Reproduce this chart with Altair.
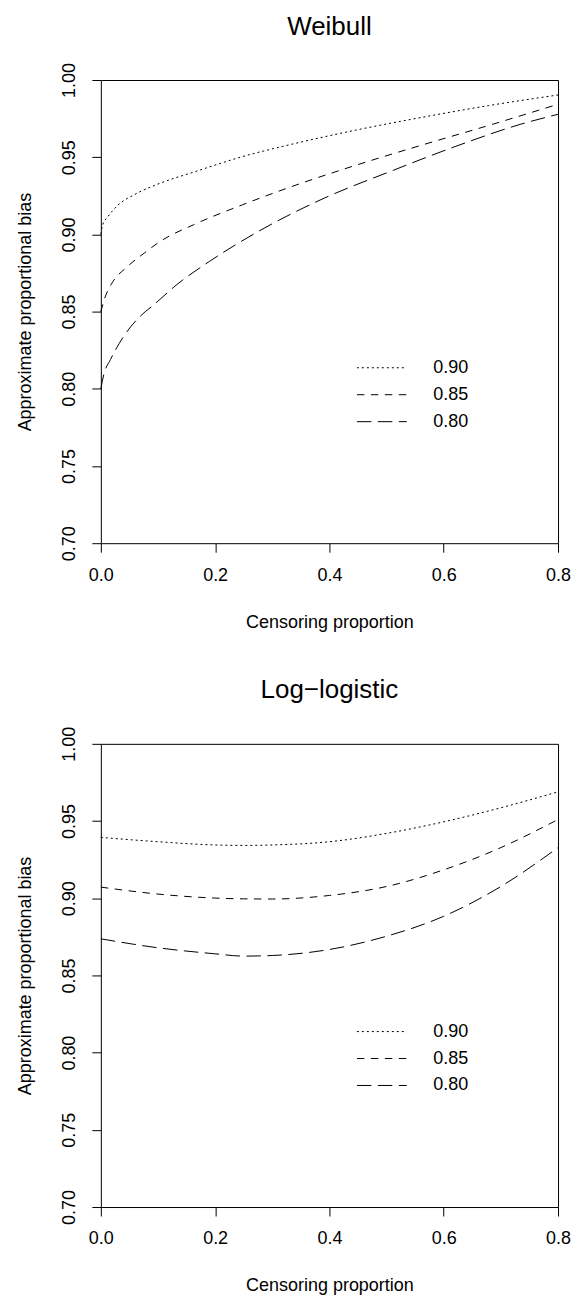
import altair as alt
import pandas as pd

FONT = "Liberation Sans"

series_names = ["0.90", "0.85", "0.80"]

# Weibull panel (censoring proportion, approximate proportional bias)
weibull_090_x = [0, 0.003, 0.0126, 0.030, 0.058, 0.104, 0.162, 0.248, 0.334, 0.448, 0.563, 0.678, 0.8]
weibull_090_y = [0.900, 0.906, 0.9116, 0.919, 0.9256, 0.9332, 0.9403, 0.9504, 0.9584, 0.9677, 0.9759, 0.9834, 0.9903]
weibull_085_x = [0, 0.0069, 0.018, 0.047, 0.076, 0.104, 0.162, 0.248, 0.334, 0.448, 0.563, 0.678, 0.8]
weibull_085_y = [0.850, 0.8588, 0.8675, 0.8793, 0.8879, 0.8955, 0.9062, 0.9192, 0.931, 0.945, 0.958, 0.9705, 0.9843]
weibull_080_x = [0, 0.005, 0.017, 0.04, 0.069, 0.093, 0.133, 0.19, 0.276, 0.391, 0.506, 0.62, 0.735, 0.8]
weibull_080_y = [0.800, 0.809, 0.819, 0.834, 0.847, 0.8545, 0.8675, 0.8825, 0.902, 0.9235, 0.9407, 0.9569, 0.9714, 0.9778]

# Log-logistic panel
loglog_x = [0, 0.1, 0.2, 0.25, 0.3, 0.4, 0.5, 0.6, 0.7, 0.8]
loglog_090_y = [0.9394, 0.9366, 0.9345, 0.9342, 0.9345, 0.9366, 0.9420, 0.9495, 0.9586, 0.9689]
loglog_085_y = [0.9072, 0.9027, 0.9001, 0.8996, 0.8995, 0.9018, 0.9076, 0.9184, 0.9328, 0.9510]
loglog_080_y = [0.8737, 0.8679, 0.8640, 0.8625, 0.8629, 0.8668, 0.8754, 0.8883, 0.9076, 0.9328]

x_ticks = [0.0, 0.2, 0.4, 0.6, 0.8]
y_ticks = [0.70, 0.75, 0.80, 0.85, 0.90, 0.95, 1.00]

dash_patterns = [[2, 3], [7.5, 6.5], [14.5, 6.5]]


def make_df(pairs):
    rows = []
    for name, (xs, ys) in zip(series_names, pairs):
        for x, y in zip(xs, ys):
            rows.append({"censoring": x, "bias": y, "series": name})
    return pd.DataFrame(rows)


def panel(df, title):
    return (
        alt.Chart(
            df,
            title=alt.TitleParams(
                title,
                fontSize=26,
                font=FONT,
                fontWeight="normal",
                anchor="middle",
                frame="group",
                baseline="alphabetic",
                offset=2,
                color="black",
            ),
        )
        .mark_line(color="black", strokeWidth=1, interpolate="monotone")
        .encode(
            x=alt.X(
                "censoring:Q",
                scale=alt.Scale(domain=[0, 0.8], nice=False, zero=False),
                axis=alt.Axis(
                    title="Censoring proportion",
                    values=x_ticks,
                    format=".1f",
                    labelFlush=False,
                    labelPadding=14,
                    titleY=84,
                    titleBaseline="alphabetic",
                ),
            ),
            y=alt.Y(
                "bias:Q",
                scale=alt.Scale(domain=[0.7, 1.0], nice=False, zero=False),
                axis=alt.Axis(
                    title="Approximate proportional bias",
                    values=y_ticks,
                    format=".2f",
                    labelFlush=False,
                    labelAngle=270,
                    labelAlign="center",
                    labelBaseline="alphabetic",
                    labelPadding=17,
                    titleX=-70,
                    titleBaseline="alphabetic",
                ),
            ),
            strokeDash=alt.StrokeDash(
                "series:N",
                sort=series_names,
                scale=alt.Scale(domain=series_names, range=dash_patterns),
                legend=alt.Legend(
                    title=None,
                    orient="none",
                    legendX=256,
                    legendY=275,
                    symbolType="stroke",
                    symbolSize=2500,
                    symbolStrokeWidth=1,
                    symbolStrokeColor="black",
                    clipHeight=26.5,
                    rowPadding=0,
                    padding=0,
                    symbolOffset=0,
                    labelOffset=26,
                    labelFontSize=18,
                    labelFont=FONT,
                    labelColor="black",
                ),
            ),
            detail="series:N",
        )
        .properties(width=458, height=464)
    )


top = panel(
    make_df([(weibull_090_x, weibull_090_y), (weibull_085_x, weibull_085_y), (weibull_080_x, weibull_080_y)]),
    "Weibull",
)
bottom = panel(
    make_df([(loglog_x, loglog_090_y), (loglog_x, loglog_085_y), (loglog_x, loglog_080_y)]),
    "Log\u2212logistic",
)

chart = (
    alt.vconcat(top, bottom, spacing=44)
    .resolve_legend(strokeDash="independent")
    .properties(
        padding={"left": 8, "top": 3, "right": 0, "bottom": 0},
        background="white",
    )
    .configure_view(stroke="black", strokeWidth=1)
    .configure_axis(
        domain=False,
        grid=False,
        ticks=True,
        tickColor="black",
        tickSize=9,
        tickWidth=1,
        labelFont=FONT,
        labelFontSize=18,
        labelColor="black",
        titleFont=FONT,
        titleFontSize=18,
        titleFontWeight="normal",
        titleColor="black",
    )
)

chart.save("out.html", embed_options={"renderer": "svg", "actions": False})
